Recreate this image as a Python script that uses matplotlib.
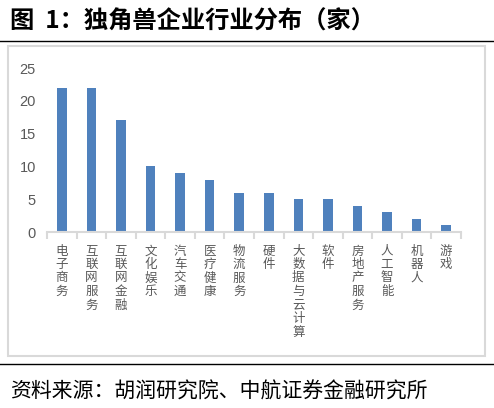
import matplotlib
matplotlib.use('Agg')
import matplotlib.pyplot as plt
from matplotlib.patches import Rectangle
from matplotlib.lines import Line2D
import numpy as np

plt.rcParams['font.family'] = ['Noto Sans CJK SC', 'DejaVu Sans']

industries = ['电子商务', '互联网服务', '互联网金融', '文化娱乐', '汽车交通', '医疗健康',
              '物流服务', '硬件', '大数据与云计算', '软件', '房地产服务', '人工智能',
              '机器人', '游戏']
counts = [22, 22, 17, 10, 9, 8, 6, 6, 5, 5, 4, 3, 2, 1]
yticks = [0, 5, 10, 15, 20, 25]

W, H = 494, 408
fig = plt.figure(figsize=(W / 100, H / 100), dpi=100)

# title and rules
fig.text(10 / W, 1 - 22 / H, '图  1：独角兽企业行业分布（家）', fontsize=17.5,
         fontweight='bold', va='center', ha='left', color='black')
fig.add_artist(Line2D([0, 1], [1 - 41 / H, 1 - 41 / H], color='black', lw=1))
fig.add_artist(Line2D([0, 1], [1 - 364 / H, 1 - 364 / H], color='black', lw=1))
fig.add_artist(Rectangle((8 / W, 1 - 356 / H), 477 / W, 310 / H, fill=False,
                         edgecolor='#D9D9D9', lw=1.5))
fig.text(10 / W, 1 - 392 / H, '资料来源：胡润研究院、中航证券金融研究所', fontsize=15,
         style='italic', va='center', ha='left', color='black')

ax = fig.add_axes([47 / W, 1 - 232 / H, (461 - 47) / W, (232 - 68) / H])
x = np.arange(len(industries))
ax.bar(x, counts, width=0.32, color='#4F81BD')
ax.set_xlim(-0.5, len(industries) - 0.5)
ax.set_ylim(0, 25)
ax.set_yticks(yticks)
ax.tick_params(axis='y', length=0, labelsize=10.5, labelcolor='#595959', pad=8)
for lbl in ax.get_yticklabels():
    lbl.set_family(['Liberation Sans', 'DejaVu Sans'])

ax.set_xticks(x)
ax.set_xticklabels(['\n'.join(s) for s in industries])
ax.set_xticks(np.arange(-0.5, len(industries)), minor=True)
ax.tick_params(axis='x', which='major', length=0, pad=9, labelsize=9, labelcolor='#595959')
for lbl in ax.get_xticklabels():
    lbl.set_linespacing(1.05)
    lbl.set_va('top')
ax.tick_params(axis='x', which='minor', length=5, color='#D9D9D9', width=1.5, direction='out')

for side in ['top', 'right', 'left']:
    ax.spines[side].set_visible(False)
ax.spines['bottom'].set_color('#D9D9D9')
ax.spines['bottom'].set_linewidth(1.5)

fig.savefig('out.png', dpi=100)
